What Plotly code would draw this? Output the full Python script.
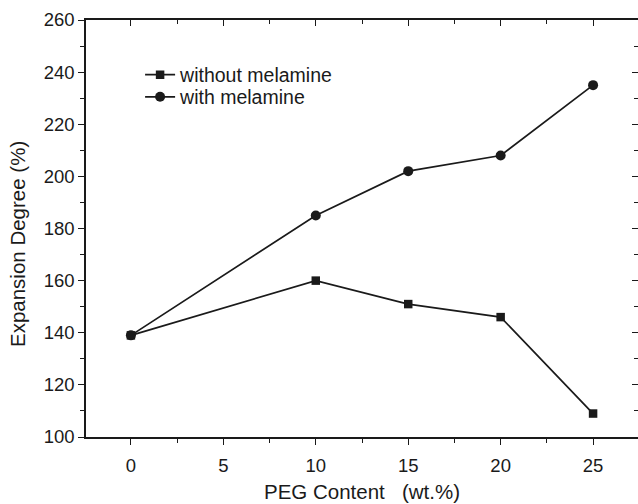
import plotly.graph_objects as go

peg = [0, 10, 15, 20, 25]
without_mel = [139, 160, 151, 146, 109]
with_mel = [139, 185, 202, 208, 235]

x_ticks = [0, 5, 10, 15, 20, 25]
y_ticks = [100, 120, 140, 160, 180, 200, 220, 240, 260]

C = "#1a1a1a"
FONT = "Liberation Sans, Arial, sans-serif"

fig = go.Figure()
fig.add_trace(go.Scatter(x=peg, y=without_mel, mode="lines+markers", name="without melamine",
                         line=dict(color=C, width=1.7), legend="legend",
                         marker=dict(symbol="square", size=8.5, color=C)))
fig.add_trace(go.Scatter(x=peg, y=with_mel, mode="lines+markers", name="with melamine",
                         line=dict(color=C, width=1.7), legend="legend2",
                         marker=dict(symbol="circle", size=10, color=C)))
# invisible trace for mirrored axes
fig.add_trace(go.Scatter(x=peg, y=with_mel, xaxis="x2", yaxis="y2", mode="markers",
                         marker=dict(opacity=0), showlegend=False, hoverinfo="skip"))

xr = [-2.43, 27.43]
yr = [100, 260]

leg_common = dict(xanchor="left", yanchor="middle", bgcolor="rgba(0,0,0,0)",
                  font=dict(size=19.5), borderwidth=0)

fig.update_layout(
    width=638, height=504,
    margin=dict(l=86, r=0, t=20, b=67),
    paper_bgcolor="white", plot_bgcolor="white",
    font=dict(family=FONT, size=18.5, color=C),
    showlegend=True,
    legend=dict(x=0.098, y=0.868, **leg_common),
    legend2=dict(x=0.098, y=0.815, **leg_common),
    xaxis=dict(range=xr, tickvals=x_ticks, ticks="outside", ticklen=6, tickwidth=1.2,
               tickcolor=C, showline=True, linecolor=C, linewidth=1.5, showgrid=False,
               zeroline=False, ticklabelstandoff=5,
               minor=dict(dtick=2.5, tick0=0, ticks="outside", ticklen=4, tickcolor=C),
               title=dict(text="PEG Content   (wt.%)", standoff=10, font=dict(size=20.5))),
    yaxis=dict(range=yr, tickvals=y_ticks, ticks="outside", ticklen=6, tickwidth=1.2,
               tickcolor=C, showline=True, linecolor=C, linewidth=1.5, showgrid=False,
               zeroline=False,
               minor=dict(dtick=10, tick0=100, ticks="outside", ticklen=4, tickcolor=C)),
    xaxis2=dict(range=xr, overlaying="x", side="top", tickvals=x_ticks, ticks="inside",
                ticklen=6, tickcolor=C, showticklabels=False, showline=True, linecolor=C,
                linewidth=1.5, showgrid=False, zeroline=False,
                minor=dict(dtick=2.5, tick0=0, ticks="inside", ticklen=4, tickcolor=C)),
    yaxis2=dict(range=yr, overlaying="y", side="right", tickvals=y_ticks, ticks="inside",
                ticklen=6, tickcolor=C, showticklabels=False, showline=True, linecolor=C,
                linewidth=1.5, showgrid=False, zeroline=False,
                minor=dict(dtick=10, tick0=100, ticks="inside", ticklen=4, tickcolor=C)),
    annotations=[dict(text="Expansion Degree (%)", xref="paper", yref="paper",
                      x=-0.123, y=0.463, xanchor="center", yanchor="middle",
                      textangle=-90, showarrow=False, font=dict(size=20.5))],
)

fig.write_html("out.html")
